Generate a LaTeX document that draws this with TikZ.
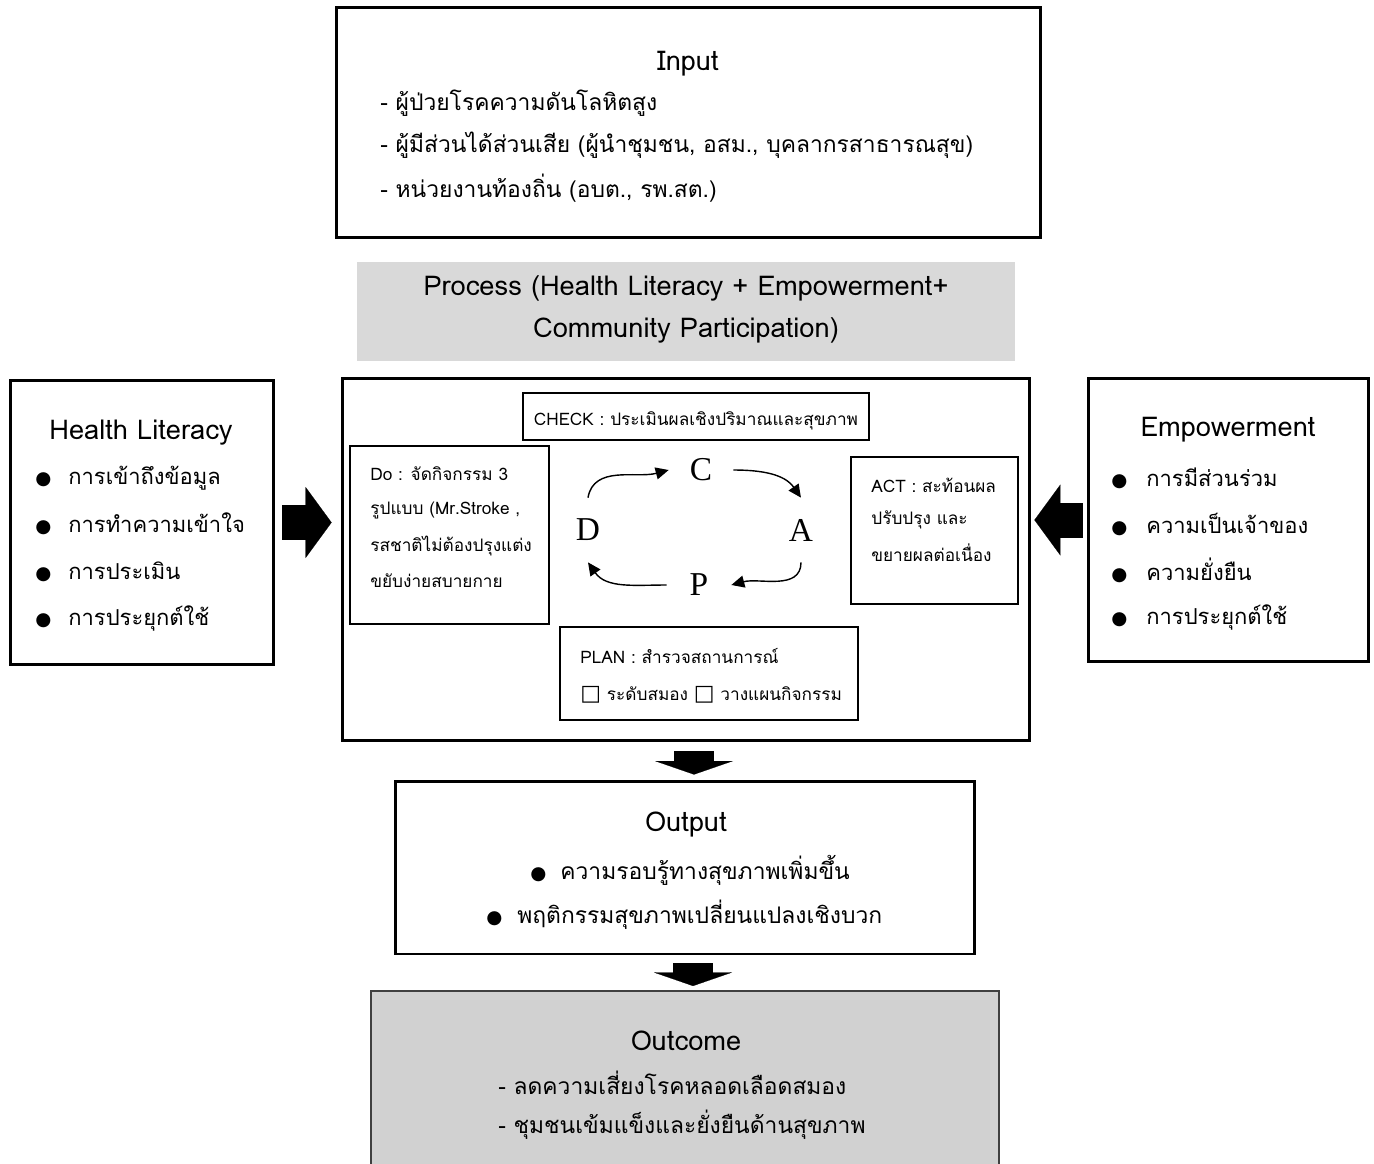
\documentclass[tikz,border=0pt]{standalone}
\usepackage{fontspec}
\setmainfont[Script=Thai]{Loma}
\newfontfamily\symfont{DejaVu Sans}
\newfontfamily\pdcafont{Liberation Serif}
\usetikzlibrary{arrows.meta}

\newcommand{\bul}{{\symfont\fontsize{10.5}{10.5}\selectfont ●}}
\newcommand{\chk}{{\symfont\fontsize{12.5}{12.5}\selectfont □}}

\begin{document}
\begin{tikzpicture}[x=0.02cm, y=-0.02cm,
  font=\fontsize{13}{16}\selectfont,
  bigbox/.style={draw=black, line width=1.7pt, inner sep=0pt},
  subbox/.style={draw=black, line width=0.8pt, inner sep=0pt},
  txt/.style={inner sep=0pt},
  head/.style={inner sep=0pt, font=\fontsize{15.5}{18}\selectfont},
  ltxt/.style={inner sep=0pt, anchor=west},
  listtxt/.style={inner sep=0pt, anchor=west, font=\fontsize{12.5}{15}\selectfont},
  small/.style={inner sep=0pt, anchor=west, font=\fontsize{9.8}{12}\selectfont},
  letter/.style={circle, minimum size=1.28cm, inner sep=0pt, font=\pdcafont\fontsize{19}{19}\selectfont},
  cyc/.style={line width=0.8pt, -{Triangle[length=0.26cm, width=0.24cm]}},
  sidearrow/.style={line width=0.7cm, -{Triangle[length=0.52cm, width=1.42cm, line width=0.1pt]}},
  downarrow/.style={line width=0.8cm, -{Triangle[length=0.27cm, width=1.56cm, line width=0.1pt]}}]

\useasboundingbox (0,0) rectangle (1374,1164);

% ── BOXES (pixel grid: 1 unit = 0.02cm) ──────────────────────────────────
\node[bigbox, minimum width=14.10cm, minimum height=4.62cm] (input) at (688.5,122.5) {};
\node[fill=black!15, inner sep=0pt, minimum width=13.16cm, minimum height=1.98cm] (ptitle) at (686,311.5) {};
\node[bigbox, minimum width=13.76cm, minimum height=7.26cm] (proc) at (686,559.5) {};
\node[bigbox, minimum width=5.28cm, minimum height=5.70cm] (hl) at (142,522.5) {};
\node[bigbox, minimum width=5.62cm, minimum height=5.68cm] (emp) at (1228.5,520) {};
\node[bigbox, minimum width=11.60cm, minimum height=3.46cm] (out) at (685,867.5) {};
\node[draw=black!75, line width=1.2pt, fill=black!18, inner sep=0pt,
  minimum width=12.56cm, minimum height=3.78cm] (outc) at (685,1085.5) {};

% ── PDCA SUB-BOXES ───────────────────────────────────────────────────────
\node[subbox, minimum width=6.92cm, minimum height=0.94cm] (check) at (696,416.5) {};
\node[subbox, minimum width=3.98cm, minimum height=3.56cm] (do) at (449.5,535) {};
\node[subbox, minimum width=3.34cm, minimum height=2.94cm] (act) at (934.5,530.5) {};
\node[subbox, minimum width=5.96cm, minimum height=1.86cm] (plan) at (709,673.5) {};

% ── INPUT ────────────────────────────────────────────────────────────────
\node[head] (intitle) at (688,64) {Input};
\node[ltxt] (in1) at (380,103) {- ผู้ป่วยโรคความดันโลหิตสูง};
\node[ltxt] (in2) at (380,145) {- ผู้มีส่วนได้ส่วนเสีย (ผู้นำชุมชน, อสม., บุคลากรสาธารณสุข)};
\node[ltxt] (in3) at (380,188) {- หน่วยงานท้องถิ่น (อบต., รพ.สต.)};

% ── PROCESS TITLE ────────────────────────────────────────────────────────
\node[head] (pt1) at (686,288) {Process (Health Literacy + Empowerment+};
\node[head] (pt2) at (686,330) {Community Participation)};

% ── PDCA TEXTS ───────────────────────────────────────────────────────────
\node[small, anchor=center] (checktxt) at (696,421) {CHECK : ประเมินผลเชิงปริมาณและสุขภาพ};
\node[small] (do1) at (370,474) {Do : จัดกิจกรรม 3};
\node[small] (do2) at (370,510) {รูปแบบ (Mr.Stroke ,};
\node[small] (do3) at (370,546) {รสชาติไม่ต้องปรุงแต่ง};
\node[small] (do4) at (370,581) {ขยับง่ายสบายกาย};
\node[small] (act1) at (871,485) {ACT : สะท้อนผล};
\node[small] (act2) at (871,520) {ปรับปรุง และ};
\node[small] (act3) at (871,553) {ขยายผลต่อเนื่อง};
\node[small] (plan1) at (580,656) {PLAN : สำรวจสถานการณ์};
\node[small] (plan2) at (580,695) {\chk\ ระดับสมอง \chk\ วางแผนกิจกรรม};

% ── PDCA CYCLE ───────────────────────────────────────────────────────────
\node[letter] (c) at (701,470) {C};
\node[letter] (a) at (801,530) {A};
\node[letter] (p) at (699,585) {P};
\node[letter] (d) at (588,530) {D};
\draw[cyc] (d.north) to[out=80, in=195] (c.west);
\draw[cyc] (c.east) to[out=0, in=125] (a.north);
\draw[cyc] (a.south) to[out=-90, in=15] (p.east);
\draw[cyc] (p.west) to[out=180, in=-55] (d.south);

% ── HEALTH LITERACY ──────────────────────────────────────────────────────
\node[head] (hltitle) at (141,433) {Health Literacy};
\node[listtxt] (hl1) at (35,478) {\makebox[0.66cm][l]{\bul}การเข้าถึงข้อมูล};
\node[listtxt] (hl2) at (35,524) {\makebox[0.66cm][l]{\bul}การทำความเข้าใจ};
\node[listtxt] (hl3) at (35,572) {\makebox[0.66cm][l]{\bul}การประเมิน};
\node[listtxt] (hl4) at (35,618) {\makebox[0.66cm][l]{\bul}การประยุกต์ใช้};

% ── EMPOWERMENT ──────────────────────────────────────────────────────────
\node[head] (emptitle) at (1228,430) {Empowerment};
\node[listtxt] (emp1) at (1111,478) {\makebox[0.7cm][l]{\bul}การมีส่วนร่วม};
\node[listtxt] (emp2) at (1111,524) {\makebox[0.7cm][l]{\bul}ความเป็นเจ้าของ};
\node[listtxt] (emp3) at (1111,570) {\makebox[0.7cm][l]{\bul}ความยั่งยืน};
\node[listtxt] (emp4) at (1111,617) {\makebox[0.7cm][l]{\bul}การประยุกต์ใช้};

% ── OUTPUT ───────────────────────────────────────────────────────────────
\node[head] (outtitle) at (686,825) {Output};
\node[ltxt] (out1) at (530,870) {\makebox[0.6cm][l]{\bul}ความรอบรู้ทางสุขภาพเพิ่มขึ้น};
\node[ltxt] (out2) at (486,915) {\makebox[0.62cm][l]{\bul}พฤติกรรมสุขภาพเปลี่ยนแปลงเชิงบวก};

% ── OUTCOME ──────────────────────────────────────────────────────────────
\node[head] (outctitle) at (686,1041) {Outcome};
\node[ltxt] (outc1) at (498,1083) {- ลดความเสี่ยงโรคหลอดเลือดสมอง};
\node[ltxt] (outc2) at (498,1125) {- ชุมชนเข้มแข็งและยั่งยืนด้านสุขภาพ};

% ── BLOCK ARROWS ─────────────────────────────────────────────────────────
\draw[sidearrow, shorten <=0.14cm, shorten >=0.18cm] (hl.east) -- (hl.east -| proc.west);
\draw[sidearrow, shorten <=0.08cm, shorten >=0.06cm] (emp.west) -- (emp.west -| proc.east);
\draw[downarrow, shorten <=0.18cm, shorten >=0.1cm]
  ([xshift=0.16cm]proc.south) -- ([xshift=0.16cm]proc.south |- out.north);
\draw[downarrow, shorten <=0.16cm, shorten >=0.08cm]
  ([xshift=0.16cm]out.south) -- ([xshift=0.16cm]out.south |- outc.north);

\end{tikzpicture}
\end{document}
